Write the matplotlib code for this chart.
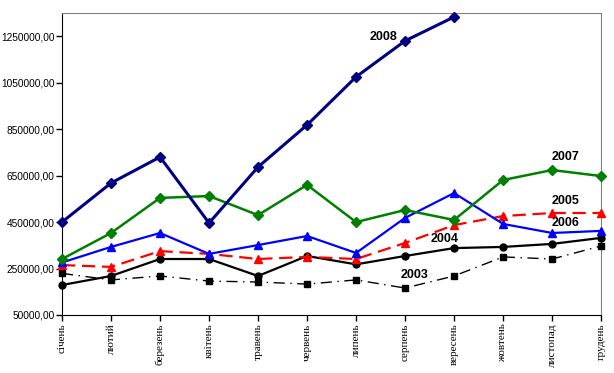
import matplotlib.pyplot as plt
from matplotlib.ticker import FuncFormatter

months = ['січень', 'лютий', 'березень', 'квітень', 'травень', 'червень',
          'липень', 'серпень', 'вересень', 'жовтень', 'листопад', 'грудень']

y2008 = [450000, 618000, 730000, 446000, 687000, 868000, 1075000, 1230000, 1333000]
y2007 = [291000, 403000, 554000, 562000, 480000, 610000, 450000, 502000, 459000, 631000, 674000, 648000]
y2006 = [276000, 343000, 403000, 313000, 351000, 390000, 317000, 468000, 575000, 442000, 403000, 412000]
y2005 = [265000, 257000, 325000, 313000, 291000, 300000, 291000, 360000, 437000, 476000, 489000, 489000]
y2004 = [179000, 218000, 291000, 291000, 218000, 304000, 268000, 304000, 338000, 343000, 356000, 382000]
y2003 = [229000, 201000, 218000, 196000, 192000, 183000, 201000, 166000, 218000, 300000, 291000, 347000]

yticks = [50000, 250000, 450000, 650000, 850000, 1050000, 1250000]

fig = plt.figure(figsize=(6.14, 3.73), dpi=100)
ax = fig.add_axes([0.101, 0.1555, 0.878, 0.8097])

x = list(range(len(months)))

ax.plot(x, y2003, color='black', lw=1.0, ls=(0, (8, 4, 1, 4)), marker='s', ms=4, clip_on=False, zorder=3)
ax.plot(x, y2004, color='black', lw=1.6, marker='o', ms=5, clip_on=False, zorder=3)
ax.plot(x, y2005, color='#FF0000', lw=1.6, ls=(0, (6, 3)), marker='^', ms=6, clip_on=False, zorder=3)
ax.plot(x, y2006, color='#0000FF', lw=1.6, marker='^', ms=6, clip_on=False, zorder=3)
ax.plot(x, y2007, color='#008000', lw=1.8, marker='D', ms=5, clip_on=False, zorder=3)
ax.plot(x[:len(y2008)], y2008, color='#000080', lw=2.2, marker='D', ms=5, clip_on=False, zorder=3)

# series labels
lab = dict(fontsize=9, fontweight='bold', family='Liberation Sans', ha='center', va='center')
ax.text(6.55, 1247000, '2008', **lab)
ax.text(10.27, 730000, '2007', **lab)
ax.text(10.27, 540000, '2005', **lab)
ax.text(10.27, 446000, '2006', **lab)
ax.text(7.8, 377000, '2004', **lab)
ax.text(7.2, 222000, '2003', **lab)

ax.set_xlim(0, 11)
ax.set_ylim(50000, 1350000)
ax.set_yticks(yticks)
ax.yaxis.set_major_formatter(FuncFormatter(lambda v, p: f'{int(v)},00'))
ax.set_xticks(x)
ax.set_xticklabels(months, rotation=90, family='Liberation Serif', fontsize=8)
for t in ax.get_yticklabels():
    t.set_family('Liberation Sans')
    t.set_fontsize(7.3)

ax.tick_params(axis='x', direction='out', length=4, width=1, color='black', pad=2)
ax.tick_params(axis='y', direction='out', length=4, width=1, color='black', pad=1.5)
ax.spines['left'].set_color('black')
ax.spines['bottom'].set_color('black')
ax.spines['top'].set_color('#808080')
ax.spines['right'].set_color('#808080')

fig.savefig('out.png', dpi=100)
